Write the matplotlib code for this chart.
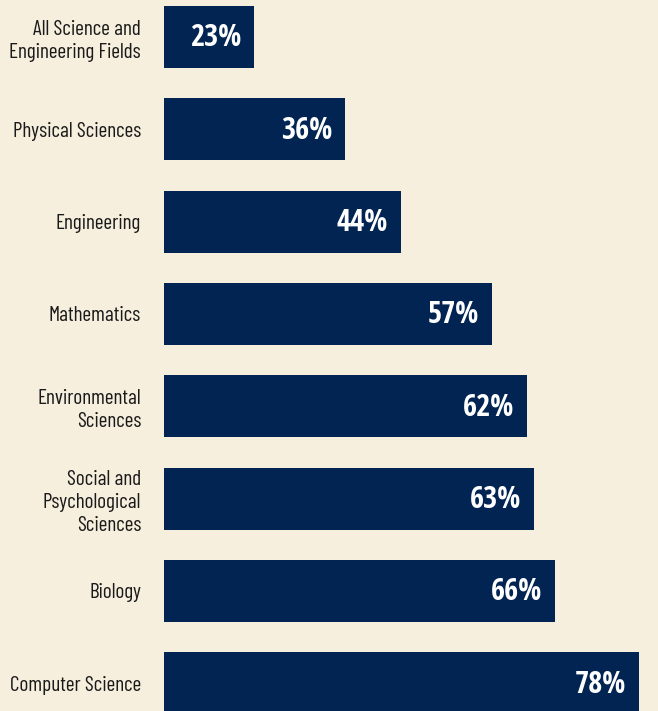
from matplotlib import pyplot as plt
import numpy as np

fields = ['All Science and\nEngineering Fields', 'Physical Sciences', 'Engineering',
          'Mathematics', 'Environmental\nSciences', 'Social and\nPsychological\nSciences',
          'Biology', 'Computer Science']
shares = [23, 36, 44, 57, 62, 63, 66, 78]

BG = '#f6efdd'
NAVY = '#012453'

plt.rcParams['font.family'] = ['Barlow Condensed', 'DejaVu Sans']

fig = plt.figure(figsize=(6.58, 7.11), dpi=100, facecolor=BG)
ax = fig.add_axes([164 / 658, 0, 494 / 658, 1])
ax.set_facecolor(BG)

y = np.arange(len(fields))
ax.barh(y, shares, height=0.672, color=NAVY, left=0)
# axis doesn't start at zero in the original graphic
ax.set_xlim(10.1, 80.7)
ax.set_ylim(7.302, -0.401)

for yi, v in zip(y, shares):
    ax.annotate(f'{v}%', xy=(v, yi), xytext=(-9.4, -1), textcoords='offset points',
                ha='right', va='center', color='white', fontsize=22,
                family=['Open Sans Condensed', 'DejaVu Sans'], fontweight='bold')

ax.set_yticks(y)
ax.set_yticklabels(fields, fontsize=15.3, color='#1a1a1a', linespacing=1.27)
ax.tick_params(axis='y', length=0, pad=16.5)
ax.set_xticks([])
for s in ax.spines.values():
    s.set_visible(False)

fig.savefig('out.png', dpi=100, facecolor=BG)
